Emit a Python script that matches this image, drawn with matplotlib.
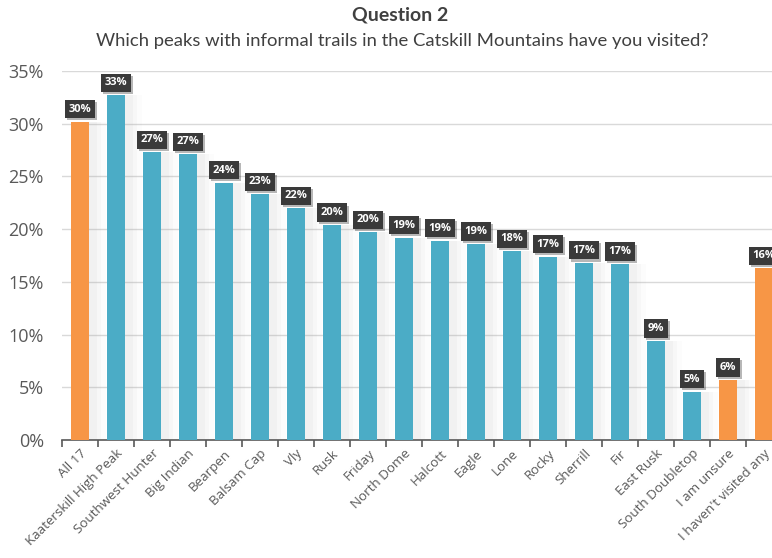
import matplotlib.pyplot as plt
import matplotlib.patheffects as pe
import numpy as np

plt.rcParams['font.family'] = ['Open Sans', 'DejaVu Sans']

# survey answers, share of respondents (%)
peaks = ['All 17', 'Kaaterskill High Peak', 'Southwest Hunter', 'Big Indian', 'Bearpen',
         'Balsam Cap', 'Vly', 'Rusk', 'Friday', 'North Dome', 'Halcott', 'Eagle', 'Lone',
         'Rocky', 'Sherrill', 'Fir', 'East Rusk', 'South Doubletop', 'I am unsure',
         "I haven't visited any"]
share = [30.2, 32.7, 27.3, 27.1, 24.4, 23.3, 22.0, 20.4, 19.7, 19.2, 18.9, 18.6, 17.9,
         17.4, 16.8, 16.7, 9.4, 4.6, 5.7, 16.3]
highlight = ['All 17', 'I am unsure', "I haven't visited any"]

blue = '#4bacc6'
orange = '#f79646'
colors = [orange if p in highlight else blue for p in peaks]

fig = plt.figure(figsize=(7.72, 5.58), dpi=100)
ax = fig.add_axes([62 / 772, 118 / 558, 720 / 772, 369 / 558])

x = np.arange(len(peaks))

# soft shadow to the right of each bar
for k, a in zip([0.28, 0.36, 0.44], [0.045, 0.035, 0.025]):
    ax.bar(x + 0.05 + k / 2, share, width=k * 2, color='#808080', alpha=a, zorder=1, linewidth=0)

ax.bar(x, share, width=0.5, color=colors, zorder=3, linewidth=0)

for xi, v in zip(x, share):
    ax.annotate(f'{v:.0f}%', (xi, v), xytext=(0, 5), textcoords='offset points',
                ha='center', va='bottom', fontsize=8, fontweight='bold', color='white',
                bbox=dict(boxstyle='square,pad=0.32', fc='#3a3a3a', ec='none',
                          path_effects=[pe.withSimplePatchShadow(offset=(1.5, -1.5), alpha=0.3)]),
                zorder=5)

ax.set_xlim(-0.5, len(peaks) - 0.5)
ax.set_ylim(0, 35)
ax.set_yticks(np.arange(0, 36, 5))
ax.set_yticklabels([f'{t}%' for t in range(0, 36, 5)])
ax.yaxis.grid(True, color='#d9d9d9', linewidth=1, zorder=0)
ax.set_axisbelow(True)

ax.set_xticks(x)
ax.set_xticklabels(peaks, rotation=45, ha='right', rotation_mode='anchor', fontsize=9.6,
                   color='#595959')
ax.tick_params(axis='x', length=0, pad=5)
ax.set_xticks(np.arange(-0.5, len(peaks)), minor=True)
ax.tick_params(axis='x', which='minor', length=5, width=1.2, color='#595959')
ax.tick_params(axis='y', length=0, labelsize=13, labelcolor='#595959', pad=13)

for s in ['top', 'right', 'left']:
    ax.spines[s].set_visible(False)
ax.spines['bottom'].set_color('#595959')
ax.spines['bottom'].set_linewidth(1.2)

fig.text(400 / 772, 1 - 15 / 558, 'Question 2', ha='center', va='center', fontsize=14,
         fontweight='bold', color='#404040', family=['Lato', 'DejaVu Sans'])
fig.text(402 / 772, 1 - 41 / 558, 'Which peaks with informal trails in the Catskill Mountains have you visited?',
         ha='center', va='center', fontsize=13.3, color='#404040', family=['Lato', 'DejaVu Sans'])

fig.savefig('out.png', dpi=100)
